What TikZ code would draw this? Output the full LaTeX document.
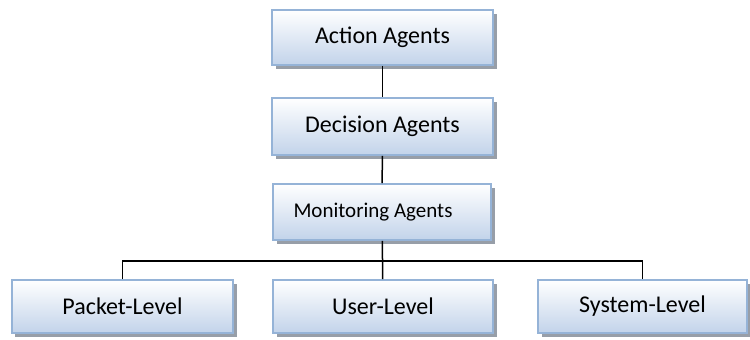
\documentclass[tikz,border=0pt]{standalone}
\usepackage{fontspec}
\setmainfont{Carlito}
\usetikzlibrary{shadows}
\definecolor{boxedge}{HTML}{95B3D7}
\definecolor{boxbottom}{HTML}{C2D3EA}
\definecolor{boxshadow}{HTML}{979EA8}
\tikzset{
  agentbox/.style={draw=boxedge, line width=1.6bp, top color=white, bottom color=boxbottom,
    minimum width=221bp, minimum height=55bp, inner sep=0pt,
    font=\fontsize{24bp}{28bp}\selectfont,
    drop shadow={shadow xshift=3.5bp, shadow yshift=-3.5bp, fill=boxshadow, opacity=1}},
  link/.style={draw=black, line width=1.5bp}
}
\begin{document}
\begin{tikzpicture}[x=1bp,y=-1bp]
  \useasboundingbox (0,0) rectangle (750,339);
  % connectors
  \coordinate (bus) at (383,261);
  % hierarchy boxes
  \node[agentbox] (act) at (382.5,37.5) {Action Agents};
  \node[agentbox, minimum height=57bp] (dec) at (382.5,126.5) {Decision Agents};
  \node[agentbox, minimum width=218bp, minimum height=56bp, font=\fontsize{21bp}{25bp}\selectfont]
       (mon) at (382,212) {Monitoring Agents\hspace*{18bp}};
  \node[agentbox, minimum height=53bp] (pkt) at (122.5,306.5) {Packet-Level};
  \node[agentbox, minimum width=220bp, minimum height=53bp] (usr) at (383,306.5) {User-Level};
  \node[agentbox, minimum width=209bp, minimum height=53bp] (sys) at (642.5,306.5) {System-Level};
  \draw[link] (act) -- (dec);
  \draw[link] (dec) -- (mon);
  \draw[link] (mon) -- (usr);
  \draw[link] (pkt.north) |- (bus) -| (sys.north);
\end{tikzpicture}
\end{document}
